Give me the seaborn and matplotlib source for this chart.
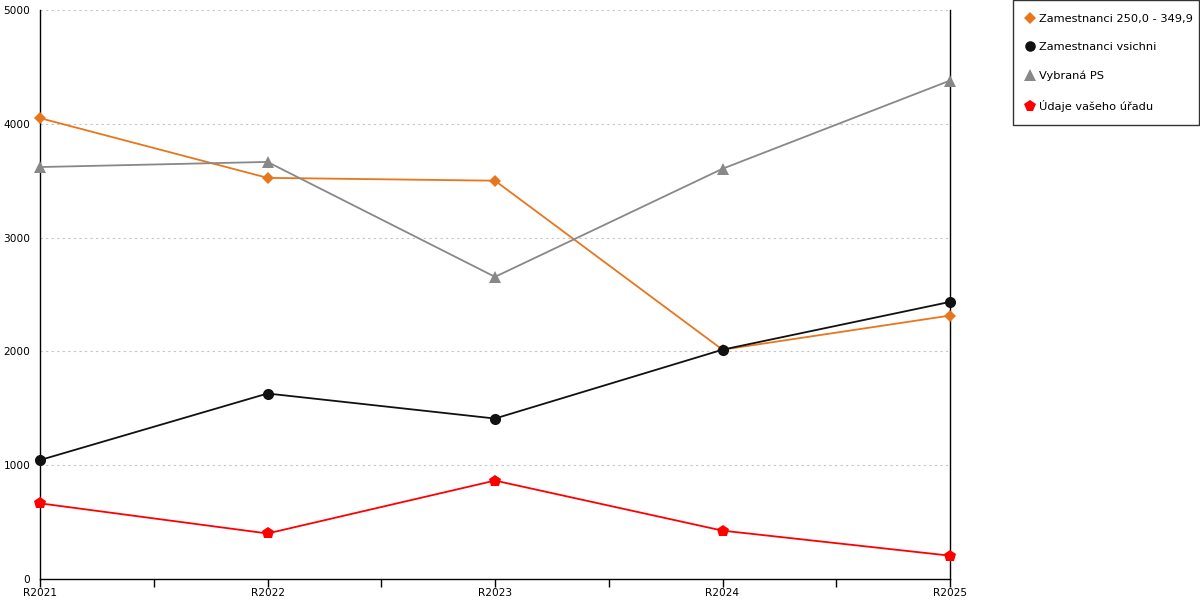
import numpy as np
import pandas as pd
import matplotlib
matplotlib.use("Agg")
import matplotlib.pyplot as plt
from matplotlib.lines import Line2D
import seaborn as sns

# --- data ---
roky = ["R2021", "R2022", "R2023", "R2024", "R2025"]
zam_250 = [4050, 3525, 3500, 2015, 2315]
zam_vsichni = [1045, 1630, 1410, 2015, 2435]
vybrana_ps = [3620, 3665, 2655, 3605, 4380]
udaje_uradu = [665, 400, 865, 425, 205]

serie = [
    ("Zamestnanci 250,0 - 349,9", zam_250, "#e8761c", "D", 6),
    ("Zamestnanci vsichni", zam_vsichni, "#111111", "o", 8),
    ("Vybraná PS", vybrana_ps, "#888888", "^", 8.5),
    ("Údaje vašeho úřadu", udaje_uradu, "#ff0000", "p", 9),
]

sns.set_style("white")
plt.rcParams["font.family"] = ["DejaVu Sans"]
plt.rcParams["text.color"] = "black"

fig = plt.figure(figsize=(12, 6), dpi=100)
ax = fig.add_axes([40 / 1200, 21 / 600, 910 / 1200, 569 / 600])

pozice = np.arange(len(roky))
handles = []
for nazev, hodnoty, barva, marker, ms in serie:
    df = pd.DataFrame({"x": pozice, "y": hodnoty})
    sns.lineplot(data=df, x="x", y="y", ax=ax, color=barva, linewidth=1.3,
                 marker=marker, markersize=ms, markeredgewidth=0,
                 clip_on=False, zorder=3)
    handles.append(Line2D([], [], linestyle="none", marker=marker, color=barva,
                          markersize=ms * 0.95, markeredgewidth=0, label=nazev))

ax.set_xlim(0, len(roky) - 1)
ax.set_ylim(0, 5000)
ax.set_xticks(pozice)
ax.set_xticklabels(roky)
ax.set_xticks(pozice[:-1] + 0.5, minor=True)
ax.set_yticks(np.arange(0, 5001, 1000))
ax.set_xlabel("")
ax.set_ylabel("")

ax.yaxis.grid(True, linestyle=(0, (2, 3)), color="#c4c4c4", linewidth=0.8)
ax.xaxis.grid(False)
ax.set_axisbelow(True)

for s in ["left", "bottom", "right"]:
    ax.spines[s].set_visible(True)
    ax.spines[s].set_color("black")
    ax.spines[s].set_linewidth(1)
ax.spines["top"].set_visible(False)

ax.tick_params(axis="x", which="both", direction="out", length=6, width=1,
               bottom=True, labelsize=7.6, pad=0.5, colors="black")
ax.tick_params(axis="y", which="major", direction="out", length=0,
               left=True, labelsize=7.6, pad=7, colors="black")

leg = fig.legend(handles=handles, loc="upper left",
                 bbox_to_anchor=(1013 / 1200, 0.0, 186 / 1200, 1.0),
                 mode="expand", frameon=True,
                 fontsize=8.2, handlelength=0.6, handletextpad=0.45,
                 labelspacing=1.62, borderpad=1.2, borderaxespad=0,
                 fancybox=False)
leg.get_frame().set_edgecolor("black")
leg.get_frame().set_linewidth(1)
for t in leg.get_texts():
    t.set_color("black")

fig.savefig("out.png", dpi=100)
